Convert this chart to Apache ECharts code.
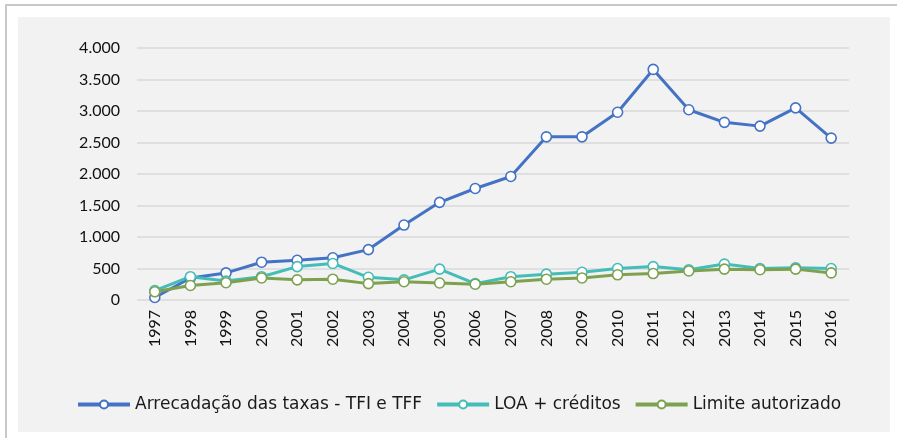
<!DOCTYPE html>
<html>
<head>
<meta charset="utf-8">
<script src="https://cdn.jsdelivr.net/npm/echarts@6/dist/echarts.min.js"></script>
<style>
  html, body { margin: 0; padding: 0; background: #fff; }
  #chart { width: 897px; height: 438px; }
</style>
</head>
<body>
<div id="chart"></div>
<script>
const years = ["1997", "1998", "1999", "2000", "2001", "2002", "2003", "2004", "2005", "2006",
  "2007", "2008", "2009", "2010", "2011", "2012", "2013", "2014", "2015", "2016"];
const arrecadacao = [40, 350, 430, 600, 630, 670, 800, 1190, 1550, 1770,
  1960, 2590, 2590, 2980, 3660, 3020, 2820, 2760, 3050, 2570];
const loaCreditos = [150, 370, 300, 370, 530, 580, 360, 320, 490, 260,
  370, 410, 440, 500, 530, 480, 570, 500, 510, 500];
const limite = [130, 230, 275, 350, 320, 330, 260, 290, 270, 250,
  290, 330, 350, 400, 420, 460, 490, 480, 490, 430];
const yTicks = [0, 500, 1000, 1500, 2000, 2500, 3000, 3500, 4000];

const fmt = v => String(v).replace(/\B(?=(\d{3})+(?!\d))/g, ".");

const chart = echarts.init(document.getElementById("chart"));

function line(name, data, color) {
  return {
    name: name,
    type: "line",
    data: data,
    symbol: "circle",
    symbolSize: 10,
    lineStyle: { color: color, width: 3 },
    itemStyle: { color: "#fff", borderColor: color, borderWidth: 1.6 },
    z: 3
  };
}

chart.setOption({
  animation: false,
  backgroundColor: "#fff",
  graphic: [
    { type: "rect", shape: { x: 6, y: 5, width: 900, height: 440 },
      style: { fill: "#fff", stroke: "#c8c8c8", lineWidth: 2 }, z: -10 },
    { type: "rect", shape: { x: 18, y: 17, width: 872, height: 415 },
      style: { fill: "#f2f2f2" }, z: -9 }
  ],
  grid: { left: 137, right: 48, top: 48, bottom: 138 },
  legend: {
    bottom: 20,
    left: 71,
    itemWidth: 52,
    itemHeight: 10,
    itemGap: 13,
    lineStyle: { width: 4 },
    textStyle: { fontFamily: "DejaVu Sans", fontSize: 17, color: "#1a1a1a" },
    data: ["Arrecadação das taxas - TFI e TFF", "LOA + créditos", "Limite autorizado"]
  },
  xAxis: {
    type: "category",
    data: years,
    boundaryGap: true,
    axisLine: { show: false },
    axisTick: { show: false },
    axisLabel: { rotate: 90, fontFamily: "Lato", fontSize: 16, color: "#111", margin: 10 }
  },
  yAxis: {
    type: "value",
    min: yTicks[0],
    max: yTicks[yTicks.length - 1],
    interval: 500,
    axisLine: { show: false },
    axisTick: { show: false },
    axisLabel: { fontFamily: "Lato", fontSize: 16, color: "#111", margin: 17, formatter: fmt },
    splitLine: { lineStyle: { color: "#d9d9d9", width: 1.5 } }
  },
  series: [
    line("Arrecadação das taxas - TFI e TFF", arrecadacao, "#4472c4"),
    line("LOA + créditos", loaCreditos, "#44bdb8"),
    line("Limite autorizado", limite, "#7ea150")
  ]
});
</script>
</body>
</html>
